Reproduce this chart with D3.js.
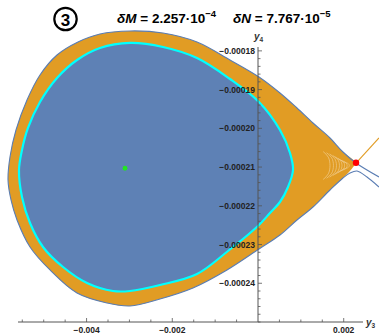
<!DOCTYPE html>
<html>
<head>
<meta charset="utf-8">
<script src="https://cdn.jsdelivr.net/npm/d3@7"></script>
<style>
  html, body { margin: 0; padding: 0; background: #fff; }
  svg text { font-family: "Liberation Sans", Arial, sans-serif; }
</style>
</head>
<body>
<div id="chart"></div>
<script>
// Outer separatrix (blue line): right edge -> saddle -> around the loop -> lower branch to the right edge
const outerY3 = [0.002823, 0.002287, 0.001983, 0.001680, 0.001283, 0.000910, 0.000513, 0.000023, -0.000653, -0.001423,
  -0.002217, -0.002987, -0.003687, -0.004200, -0.004690, -0.005087, -0.005390, -0.005647, -0.005787, -0.005833,
  -0.005763, -0.005623, -0.005320, -0.004853, -0.004223, -0.003523, -0.002987, -0.002287, -0.001517, -0.000723,
  0.000023, 0.000513, 0.000910, 0.001283, 0.001680, 0.001983, 0.002147, 0.002310, 0.002543, 0.002823];
const outerY4 = [-0.00021256, -0.00020895, -0.00020611, -0.00020249, -0.00019862, -0.00019475, -0.00019087, -0.00018674, -0.00018235, -0.00017770,
  -0.00017538, -0.00017486, -0.00017564, -0.00017770, -0.00018106, -0.00018622, -0.00019268, -0.00020043, -0.00020740, -0.00021334,
  -0.00021850, -0.00022366, -0.00023063, -0.00023657, -0.00024251, -0.00024509, -0.00024587, -0.00024406, -0.00024122, -0.00023657,
  -0.00023115, -0.00022754, -0.00022366, -0.00022031, -0.00021592, -0.00021282, -0.00021153, -0.00021101, -0.00021256, -0.00021514];

// Tip of the orange region, closing back towards the saddle
const tipY3 = [0.002123, 0.002240];
const tipY4 = [-0.00021127, -0.00020972];

// Cyan invariant curve bounding the blue region
const cyanY3 = [-0.002987, -0.002217, -0.001423, -0.000653, 0.000023, 0.000513, 0.000747, 0.000817, 0.000700, 0.000513,
  0.000280, 0.000023, -0.000700, -0.001423, -0.002287, -0.002987, -0.003383, -0.003990, -0.004550, -0.005017,
  -0.005320, -0.005507, -0.005577, -0.005507, -0.005367, -0.005087, -0.004690, -0.004223, -0.003687];
const cyanY4 = [-0.00017796, -0.00017899, -0.00018184, -0.00018726, -0.00019320, -0.00020043, -0.00020636, -0.00021075, -0.00021514, -0.00021902,
  -0.00022186, -0.00022495, -0.00023167, -0.00023761, -0.00024045, -0.00024200, -0.00024200, -0.00023993, -0.00023580, -0.00023063,
  -0.00022444, -0.00021772, -0.00021075, -0.00020559, -0.00019991, -0.00019320, -0.00018700, -0.00018235, -0.00017925];

// Unstable manifold leaving the saddle to the upper right
const manifoldY3 = [0.002287, 0.002823];
const manifoldY4 = [-0.00020895, -0.00020249];

// Fine contour ripples near the saddle (vertex position and half height)
const rippleY3 = [0.00168, 0.00176, 0.00183, 0.00190, 0.00196, 0.00202, 0.00208, 0.00213];
const rippleHalf = [0.0000036, 0.0000033, 0.0000030, 0.0000026, 0.0000022, 0.0000018, 0.0000014, 0.0000010];
const rippleCenterY4 = -0.00020960;

// Fixed points
const saddle = [0.002287, -0.00020887];
const centre = [-0.003103, -0.00021031];

// Ticks
const xMajorTicks = [-0.004, -0.002, 0.002];
const xMajorLabels = ["\u22120.004", "\u22120.002", "0.002"];
const yMajorTicks = [-0.00018, -0.00019, -0.0002, -0.00021, -0.00022, -0.00023, -0.00024];
const yMajorLabels = ["\u22120.00018", "\u22120.00019", "\u22120.00020", "\u22120.00021", "\u22120.00022", "\u22120.00023", "\u22120.00024"];

const width = 379;
const height = 335;

const svg = d3.select("#chart").append("svg")
  .attr("width", width)
  .attr("height", height)
  .attr("viewBox", `0 0 ${width} ${height}`);

// Scales: axis line spans the visible range, curves may run past it
const x = d3.scaleLinear().domain([-0.0056, 0.00245]).range([18, 363]);
const y = d3.scaleLinear().domain([-0.00025, -0.000179]).range([322, 47]);

const BLUE = "#5e81b5";
const ORANGE = "#e19c24";

const zip = (a, b) => a.map((v, i) => [v, b[i]]);
const outerPts = zip(outerY3, outerY4);
const fillPts = outerPts.slice(1, 36).concat(zip(tipY3, tipY4));
const cyanPts = zip(cyanY3, cyanY4);

const lineOpen = d3.line().x((d) => x(d[0])).y((d) => y(d[1])).curve(d3.curveCatmullRom.alpha(0.5));
const lineClosed = d3.line().x((d) => x(d[0])).y((d) => y(d[1])).curve(d3.curveCatmullRomClosed.alpha(0.5));

// Orange band between the separatrix and the cyan curve
svg.append("path").attr("d", lineClosed(fillPts)).attr("fill", ORANGE).attr("stroke", "none");

svg.append("clipPath").attr("id", "bandClip")
  .append("path").attr("d", lineClosed(fillPts));

// Ripples near the saddle
svg.append("g").attr("clip-path", "url(#bandClip)")
  .selectAll("path")
  .data(rippleY3.map((v, i) => ({ v, h: rippleHalf[i] })))
  .join("path")
  .attr("d", (d) => d3.line().x((p) => x(p[0])).y((p) => y(p[1])).curve(d3.curveNatural)([
    [d.v - 0.00016, rippleCenterY4 + d.h],
    [d.v - 0.00004, rippleCenterY4 + d.h * 0.6],
    [d.v, rippleCenterY4],
    [d.v - 0.00004, rippleCenterY4 - d.h * 0.6],
    [d.v - 0.00016, rippleCenterY4 - d.h],
  ]))
  .attr("fill", "none")
  .attr("stroke", "#f4d49c")
  .attr("stroke-width", 0.6);

// Blue region with cyan border
svg.append("path").attr("d", lineClosed(cyanPts))
  .attr("fill", BLUE)
  .attr("stroke", "#00ffff")
  .attr("stroke-width", 2.2);

// Separatrix line
svg.append("path").attr("d", lineOpen(outerPts))
  .attr("fill", "none")
  .attr("stroke", "#5a7db3")
  .attr("stroke-width", 1.1);

// Unstable manifold
svg.append("path").attr("d", lineOpen(zip(manifoldY3, manifoldY4)))
  .attr("fill", "none")
  .attr("stroke", ORANGE)
  .attr("stroke-width", 1.1);

// Fixed points
svg.append("circle").attr("cx", x(saddle[0])).attr("cy", y(saddle[1])).attr("r", 3.2).attr("fill", "#ff0000");
svg.append("circle").attr("cx", x(centre[0])).attr("cy", y(centre[1])).attr("r", 2.4).attr("fill", "#22e622");

// Axes drawn through the origin (y3 = 0, y4 = -0.00025)
const axisColor = "#555";
const axes = svg.append("g");
const x0 = x(0);
const yBase = y(-0.00025);

axes.append("line").attr("x1", x.range()[0]).attr("x2", x.range()[1]).attr("y1", yBase).attr("y2", yBase)
  .attr("stroke", axisColor).attr("stroke-width", 1);
axes.append("line").attr("x1", x0).attr("x2", x0).attr("y1", y.range()[1]).attr("y2", yBase)
  .attr("stroke", axisColor).attr("stroke-width", 1);

// x minor ticks every 0.0005
const xMinor = d3.range(-0.0055, 0.00245, 0.0005).filter((v) => Math.abs(v) > 1e-9);
axes.selectAll("line.xminor").data(xMinor).join("line")
  .attr("class", "xminor")
  .attr("x1", (d) => x(d)).attr("x2", (d) => x(d))
  .attr("y1", yBase).attr("y2", (d) => yBase - (xMajorTicks.some((m) => Math.abs(m - d) < 1e-9) ? 4 : 2.5))
  .attr("stroke", axisColor).attr("stroke-width", 0.8);

axes.selectAll("text.xlab").data(xMajorTicks).join("text")
  .attr("class", "xlab")
  .attr("x", (d) => x(d)).attr("y", 333)
  .attr("text-anchor", "middle")
  .attr("font-size", 8.5).attr("font-weight", "bold").attr("fill", "#222")
  .text((d, i) => xMajorLabels[i]);

// y minor ticks every 0.000002
const yMinor = d3.range(0, 36).map((i) => -0.00025 + i * 0.000002).filter((v) => v <= -0.000179);
axes.selectAll("line.yminor").data(yMinor).join("line")
  .attr("class", "yminor")
  .attr("x1", x0).attr("x2", (d) => x0 + (yMajorTicks.some((m) => Math.abs(m - d) < 1e-10) ? 4 : 2.5))
  .attr("y1", (d) => y(d)).attr("y2", (d) => y(d))
  .attr("stroke", axisColor).attr("stroke-width", 0.8);

axes.selectAll("text.ylab").data(yMajorTicks).join("text")
  .attr("class", "ylab")
  .attr("x", x0 - 3).attr("y", (d) => y(d) + 3)
  .attr("text-anchor", "end")
  .attr("font-size", 8.5).attr("font-weight", "bold").attr("fill", "#222")
  .text((d, i) => yMajorLabels[i]);

// Axis names
const yName = axes.append("text").attr("x", 254).attr("y", 40)
  .attr("font-size", 10).attr("font-style", "italic").attr("font-weight", "bold").attr("fill", "#333");
yName.append("tspan").text("y");
yName.append("tspan").attr("font-size", 6.5).attr("font-style", "normal").attr("dy", 2).text("4");

const xName = axes.append("text").attr("x", 366).attr("y", 326)
  .attr("font-size", 10).attr("font-style", "italic").attr("font-weight", "bold").attr("fill", "#333");
xName.append("tspan").text("y");
xName.append("tspan").attr("font-size", 6.5).attr("font-style", "normal").attr("dy", 2).text("3");

// Title: circled number and splitting sizes
const title = svg.append("g");
title.append("circle").attr("cx", 65.5).attr("cy", 19).attr("r", 11.2)
  .attr("fill", "none").attr("stroke", "#000").attr("stroke-width", 2.2);
title.append("text").attr("x", 65.5).attr("y", 25.5).attr("text-anchor", "middle")
  .attr("font-size", 17).attr("font-weight", "bold").text("3");

function splitLabel(xPos, name, mant, exp) {
  const t = title.append("text").attr("x", xPos).attr("y", 23)
    .attr("font-size", 13.5).attr("font-weight", "bold").attr("fill", "#000");
  t.append("tspan").attr("font-style", "italic").text(name);
  t.append("tspan").text(` = ${mant}\u00b710`);
  t.append("tspan").attr("font-size", 9.5).attr("dy", -6).text(exp);
}
splitLabel(117, "\u03b4M", "2.257", "\u22124");
splitLabel(233, "\u03b4N", "7.767", "\u22125");
</script>
</body>
</html>
